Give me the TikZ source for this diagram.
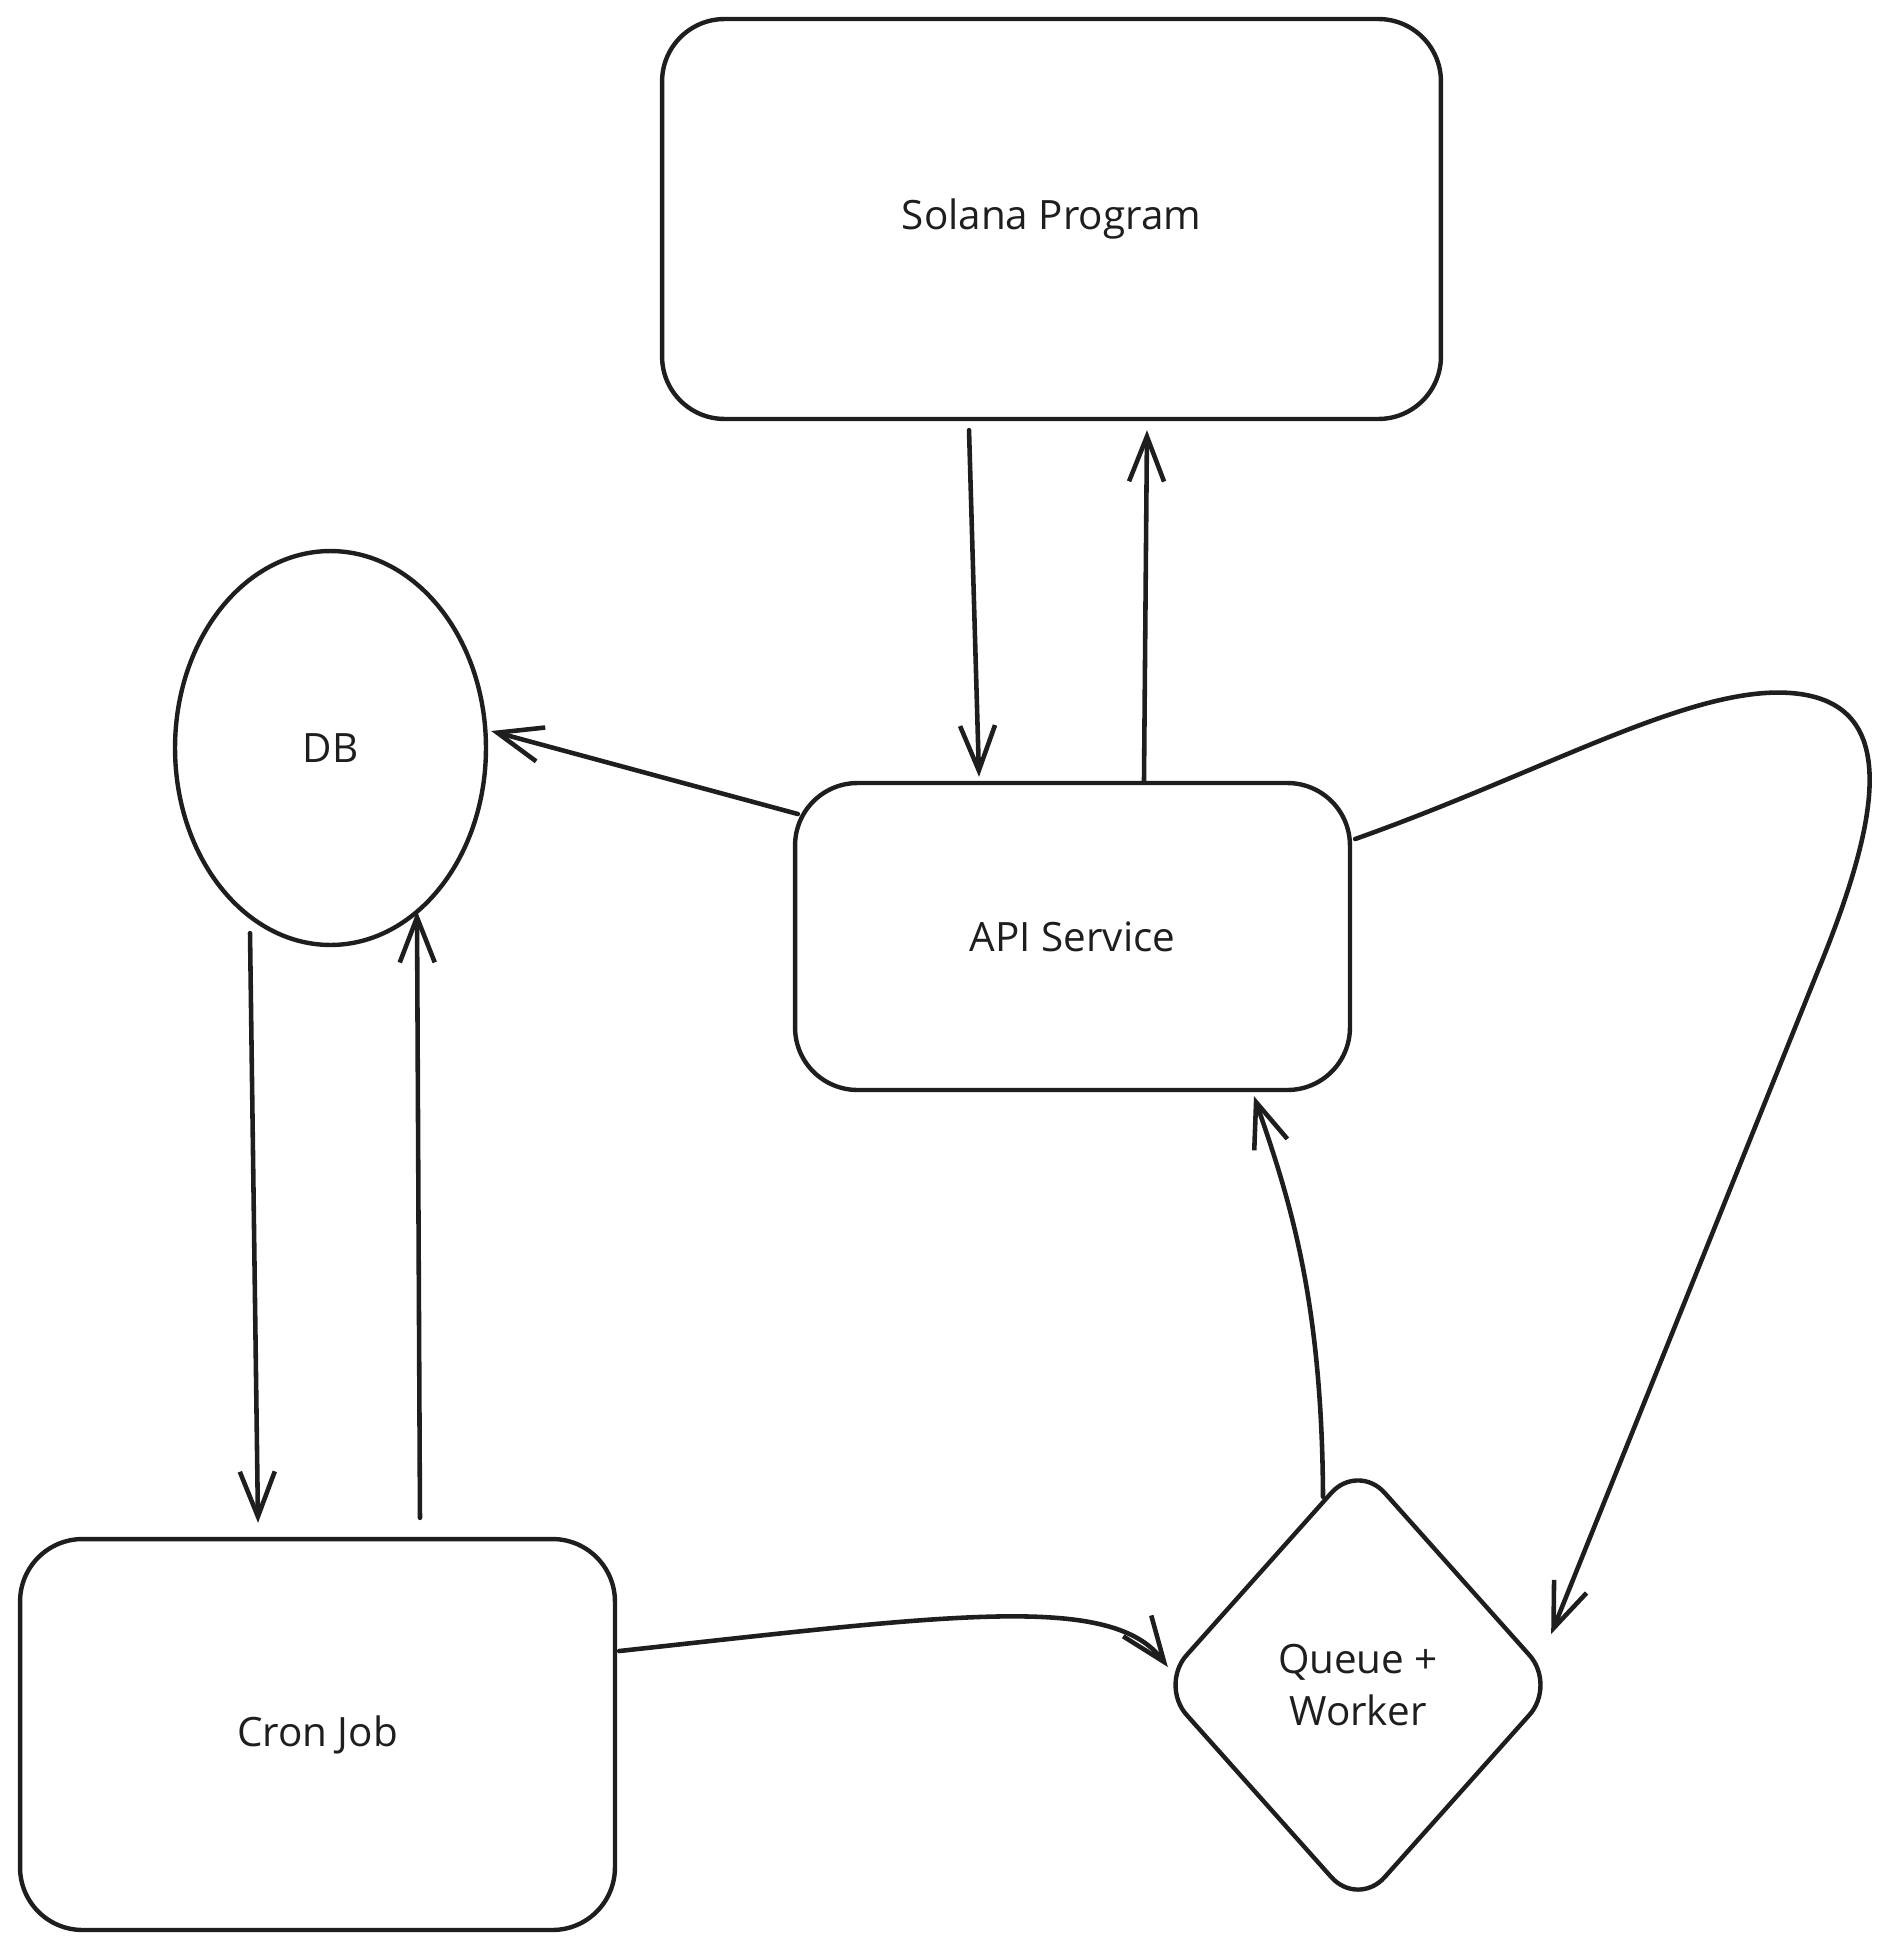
\documentclass[tikz,border=0pt]{standalone}
\usepackage{fontspec}
\setmainfont{Open Sans}
\usetikzlibrary{arrows.meta,shapes.geometric}
\definecolor{ink}{HTML}{1E1E1E}
\begin{document}
\begin{tikzpicture}[x=0.02cm,y=-0.02cm,
    >={Straight Barb[length=0.9cm,width=0.7cm]},
    every node/.style={text=ink,font=\fontsize{23}{30}\selectfont,align=center},
    boxnode/.style={draw=ink,line width=2.5pt,rounded corners=1.25cm},
    dbnode/.style={draw=ink,line width=2.5pt,ellipse},
    qnode/.style={draw=ink,line width=2.5pt,diamond,rounded corners=0.8cm,minimum width=7.96cm,minimum height=8.92cm},
    link/.style={->,draw=ink,line width=2.6pt,line cap=round,line join=round}]
  \useasboundingbox (0,0) rectangle (1888,1946);
  \node[boxnode,minimum width=15.58cm,minimum height=8cm] (sol) at (1051.5,219) {Solana Program};
  \node[boxnode,minimum width=11.1cm,minimum height=6.14cm] (api) at (1072.5,936.5) {API Service};
  \node[dbnode,minimum width=6.22cm,minimum height=7.88cm] (db) at (330.5,748) {DB};
  \node[boxnode,minimum width=11.9cm,minimum height=7.82cm] (cron) at (317.5,1734.5) {Cron Job};
  \node[qnode] (queue) at (1358,1685) {Queue +\\Worker};
  \coordinate (looptop) at (1800,694);
  \coordinate (loopbend) at (1817,973);
  \draw[link] ([xshift=-1.65cm,yshift=-0.18cm]sol.south) -- ([xshift=-1.87cm,yshift=0.08cm]api.north); %sol->api
  \draw[link] ([xshift=1.43cm]api.north) -- ([xshift=1.91cm,yshift=-0.18cm]sol.south); %api->sol
  \draw[link] ([xshift=0.1cm,yshift=2.45cm]api.west) -- ([xshift=0.06cm,yshift=0.34cm]db.east);
  \draw[link] ([xshift=-1.61cm,yshift=0.28cm]db.south) -- ([xshift=-1.19cm,yshift=0.28cm]cron.north);
  \draw[link] ([xshift=2.05cm,yshift=0.38cm]cron.north) -- ([xshift=1.73cm,yshift=0.72cm]db.south);
  \draw[link] ([xshift=0.04cm,yshift=1.67cm]cron.east) .. controls (950,1615) and (1112,1592) .. ([xshift=0.22cm,yshift=0.36cm]queue.west);
  \draw[link] ([xshift=-0.7cm,yshift=-0.74cm]queue.north) .. controls (1322,1300) and (1290,1200) .. ([xshift=3.63cm,yshift=-0.08cm]api.south);
  \draw[link] ([xshift=0.06cm,yshift=1.95cm]api.east) .. controls (1550,770) and (1700,680) .. (looptop)
    .. controls (1900,708) and (1880,820) .. (loopbend) -- ([xshift=-0.16cm,yshift=1.02cm]queue.east); %loop
\end{tikzpicture}
\end{document}
